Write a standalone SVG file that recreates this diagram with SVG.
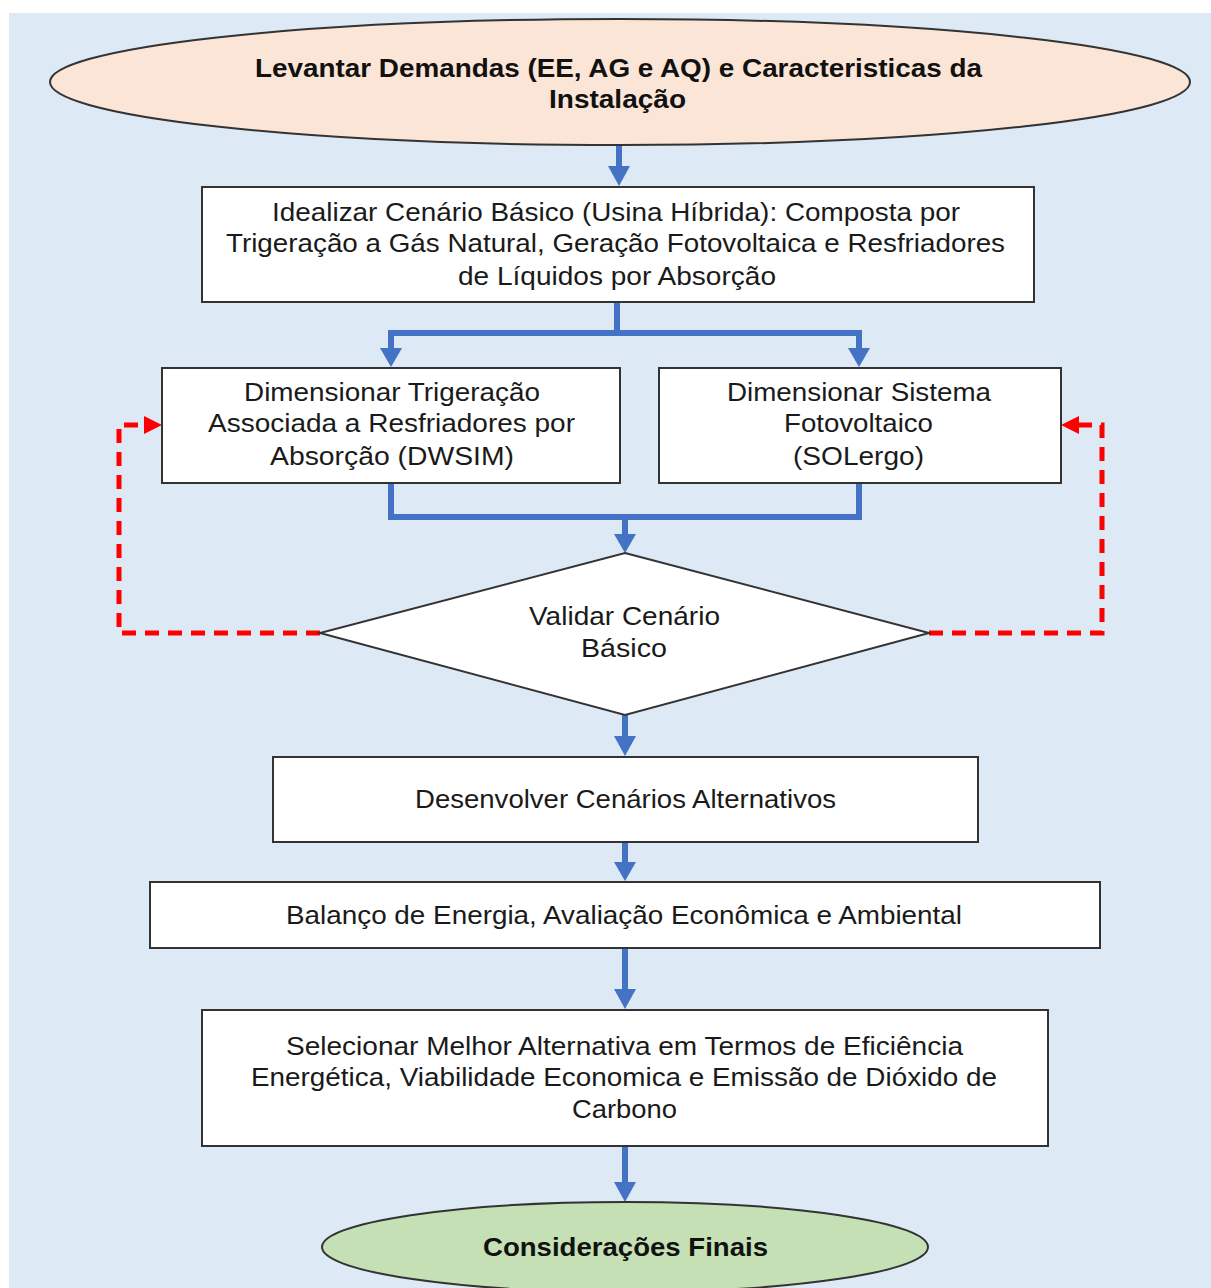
<svg xmlns="http://www.w3.org/2000/svg" width="1211" height="1288" viewBox="0 0 1211 1288">
<defs>
<style>
.bg{fill:#dde9f5}
.box{fill:#ffffff;stroke:#333;stroke-width:2}
.t{font-family:"Liberation Sans",Arial,sans-serif;font-size:25px;fill:#1a1a1a;text-anchor:middle}
.tb{font-family:"Liberation Sans",Arial,sans-serif;font-size:26px;font-weight:bold;fill:#111;text-anchor:middle}
.blue{fill:none;stroke:#4472c4;stroke-width:6}
.red{fill:none;stroke:#ff0000;stroke-width:5;stroke-dasharray:14,9}
.ah{fill:#4472c4}
.ar{fill:#ff0000}
</style>
</defs>
<rect x="0" y="0" width="1211" height="1288" fill="#ffffff"/>
<rect class="bg" x="9" y="13" width="1202" height="1275"/>

<g id="connectors">
<line class="blue" x1="619" y1="146" x2="619" y2="168"/>
<polygon class="ah" points="608,166 630,166 619,186"/>
<polyline class="blue" points="617,302 617,333"/>
<polyline class="blue" points="391,350 391,333 859,333 859,350"/>
<polygon class="ah" points="380,348 402,348 391,367"/>
<polygon class="ah" points="848,348 870,348 859,367"/>
<polyline class="blue" points="391,483 391,517 859,517 859,483"/>
<line class="blue" x1="625" y1="517" x2="625" y2="536"/>
<polygon class="ah" points="614,534 636,534 625,553"/>
<line class="blue" x1="625" y1="715" x2="625" y2="738"/>
<polygon class="ah" points="614,736 636,736 625,756"/>
<line class="blue" x1="625" y1="842" x2="625" y2="864"/>
<polygon class="ah" points="614,862 636,862 625,881"/>
<line class="blue" x1="625" y1="948" x2="625" y2="991"/>
<polygon class="ah" points="614,989 636,989 625,1009"/>
<line class="blue" x1="625" y1="1146" x2="625" y2="1184"/>
<polygon class="ah" points="614,1182 636,1182 625,1202"/>
<polyline class="red" points="320,633 119,633 119,425 145,425"/>
<polygon class="ar" points="144,416 162,425 144,434"/>
<polyline class="red" points="929,633 1102,633 1102,425 1078,425"/>
<polygon class="ar" points="1079,416 1061,425 1079,434"/>
</g>

<g id="n-start">
<ellipse cx="620" cy="82" rx="570" ry="63" fill="#fbe5d6" stroke="#333" stroke-width="2"/>
<text class="tb" x="618.5" y="77" textLength="727" lengthAdjust="spacingAndGlyphs">Levantar Demandas (EE, AG e AQ) e Caracteristicas da</text>
<text class="tb" x="617.5" y="108" textLength="137" lengthAdjust="spacingAndGlyphs">Instalação</text>
</g>

<g id="n-cenario">
<rect class="box" x="202" y="187" width="832" height="115"/>
<text class="t" x="616" y="221" textLength="688" lengthAdjust="spacingAndGlyphs">Idealizar  Cenário Básico (Usina Híbrida): Composta por</text>
<text class="t" x="615.5" y="252" textLength="779" lengthAdjust="spacingAndGlyphs">Trigeração a Gás Natural,  Geração Fotovoltaica  e Resfriadores</text>
<text class="t" x="617" y="285" textLength="318" lengthAdjust="spacingAndGlyphs">de Líquidos  por  Absorção</text>
</g>

<g id="n-trig">
<rect class="box" x="162" y="368" width="458" height="115"/>
<text class="t" x="392" y="401" textLength="296" lengthAdjust="spacingAndGlyphs">Dimensionar Trigeração</text>
<text class="t" x="391.5" y="432" textLength="367" lengthAdjust="spacingAndGlyphs">Associada a Resfriadores por</text>
<text class="t" x="392" y="465" textLength="244" lengthAdjust="spacingAndGlyphs">Absorção  (DWSIM)</text>
</g>

<g id="n-foto">
<rect class="box" x="659" y="368" width="402" height="115"/>
<text class="t" x="859" y="401" textLength="264" lengthAdjust="spacingAndGlyphs">Dimensionar Sistema</text>
<text class="t" x="858.5" y="432" textLength="149" lengthAdjust="spacingAndGlyphs">Fotovoltaico</text>
<text class="t" x="858.5" y="465" textLength="131" lengthAdjust="spacingAndGlyphs">(SOLergo)</text>
</g>

<g id="n-validar">
<polygon points="625,553 929,633 625,715 320,633" fill="#ffffff" stroke="#333" stroke-width="2"/>
<text class="t" x="624.5" y="625" textLength="191" lengthAdjust="spacingAndGlyphs">Validar Cenário</text>
<text class="t" x="624" y="657" textLength="86" lengthAdjust="spacingAndGlyphs">Básico</text>
</g>

<g id="n-desenv">
<rect class="box" x="273" y="757" width="705" height="85"/>
<text class="t" x="625.5" y="808" textLength="421" lengthAdjust="spacingAndGlyphs">Desenvolver  Cenários Alternativos</text>
</g>

<g id="n-balanco">
<rect class="box" x="150" y="882" width="950" height="66"/>
<text class="t" x="624" y="924" textLength="676" lengthAdjust="spacingAndGlyphs">Balanço de Energia, Avaliação Econômica e Ambiental</text>
</g>

<g id="n-selecionar">
<rect class="box" x="202" y="1010" width="846" height="136"/>
<text class="t" x="624.5" y="1055" textLength="677" lengthAdjust="spacingAndGlyphs">Selecionar Melhor  Alternativa  em Termos de Eficiência</text>
<text class="t" x="624" y="1086" textLength="746" lengthAdjust="spacingAndGlyphs">Energética, Viabilidade Economica e Emissão de Dióxido de</text>
<text class="t" x="624.5" y="1118" textLength="105" lengthAdjust="spacingAndGlyphs">Carbono</text>
</g>

<g id="n-final">
<ellipse cx="625" cy="1247" rx="303" ry="45" fill="#c5e0b4" stroke="#333" stroke-width="2"/>
<text class="tb" x="625.5" y="1256" textLength="285" lengthAdjust="spacingAndGlyphs">Considerações Finais</text>
</g>
</svg>
